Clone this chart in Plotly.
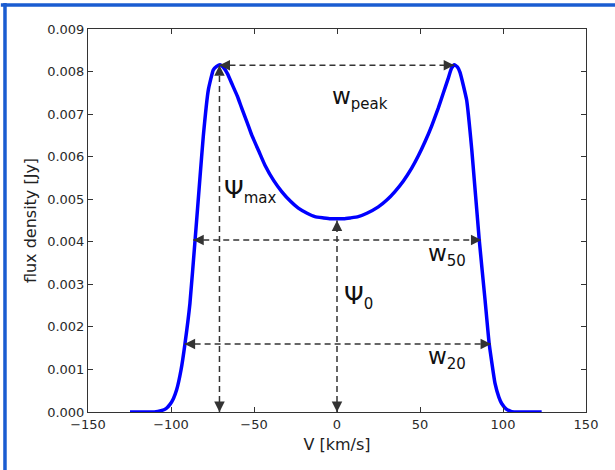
import plotly.graph_objects as go

# ---- data ----
velocity = [-124.7, -110, -106, -103, -100.6, -98.5, -96.6, -94, -91.6, -88.6,
            -85.5, -82.5, -80.5, -77.5, -74.5, -72.5, -70.5, -68.5, -66, -63.4,
            -60, -57.4, -54, -51.4, -47, -43.4, -38, -33.3, -28, -23.3,
            -18, -13.3, -8, -4, 0, 4, 8, 12.8, 18, 24.9,
            30, 34.9, 40, 45, 49, 53, 57, 61, 64, 67,
            68.8, 70.6, 72.5, 74.1, 78.1, 81.2, 85.7, 89.2, 91.7, 95.2,
            97.5, 99.2, 102, 105.2, 110, 123.3]
flux = [0.0, 0.0, 0.00003, 0.00008, 0.00018, 0.00032, 0.00052, 0.00098, 0.0016, 0.00255,
        0.00404, 0.00553, 0.0065, 0.00757, 0.00804, 0.00812, 0.00816, 0.0081, 0.00795, 0.00772,
        0.00742, 0.00714, 0.00679, 0.00651, 0.00612, 0.0058, 0.00543, 0.00518, 0.00495, 0.00479,
        0.00467, 0.00459, 0.00456, 0.00454, 0.00454, 0.00454, 0.00456, 0.00459, 0.00467, 0.00482,
        0.00498, 0.00518, 0.00543, 0.00573, 0.00602, 0.00635, 0.00672, 0.00714, 0.00749, 0.00784,
        0.00806, 0.00816, 0.00811, 0.00798, 0.00733, 0.00616, 0.00404, 0.00263, 0.0016, 0.00067,
        0.00035, 0.0002, 0.00007, 0.00001, 0.0, 0.0]

# measurement markers
peak_v = [-70.8, 70.6]
peak_flux = 0.00815
center_v = 0.0
center_flux = 0.0045
w50_edges = [-86.6, 87.0]
w50_level = 0.00404
w20_edges = [-91.8, 92.8]
w20_level = 0.0016

x_ticks = [-150, -100, -50, 0, 50, 100, 150]
y_ticks = [0.000, 0.001, 0.002, 0.003, 0.004, 0.005, 0.006, 0.007, 0.008, 0.009]

# label texts and anchor positions (data coords)
label_main = ["w", "Ψ", "Ψ", "w", "w"]
label_sub = ["peak", "max", "0", "50", "20"]
label_x = [-4.5, -69.5, 2.8, 53.5, 53.5]
label_y = [0.00738, 0.0052, 0.0027, 0.0037, 0.00128]
label_size = [23, 25, 25, 23, 23]
sub_size = 15

DARK = "#333333"
FONT = "DejaVu Sans"

fig = go.Figure()
fig.add_trace(go.Scatter(
    x=velocity, y=flux, mode="lines",
    line=dict(color="#0000ff", width=3.5, shape="spline", smoothing=0.4),
    cliponaxis=False, hoverinfo="skip", showlegend=False))

dash = "6px,4px"
shapes = []
for (x0, x1, yy) in [(peak_v[0], peak_v[1], peak_flux),
                     (w50_edges[0], w50_edges[1], w50_level),
                     (w20_edges[0], w20_edges[1], w20_level)]:
    shapes.append(dict(type="line", xref="x", yref="y", x0=x0, x1=x1, y0=yy, y1=yy,
                       line=dict(color=DARK, width=1.5, dash=dash)))
for (xx, ytop) in [(peak_v[0], peak_flux), (center_v, center_flux)]:
    shapes.append(dict(type="line", xref="x", yref="y", x0=xx, x1=xx, y0=0, y1=ytop,
                       line=dict(color=DARK, width=1.5, dash=dash)))

# blue screenshot frame
shapes.append(dict(type="line", xref="paper", yref="paper", x0=-0.175, x1=1.06,
                   y0=1.0627, y1=1.0627, line=dict(color="#1a5cd1", width=3.5)))
shapes.append(dict(type="line", xref="paper", yref="paper", x0=-0.1667, x1=-0.1667,
                   y0=1.068, y1=-0.16, line=dict(color="#1a5cd1", width=3.5)))

annotations = []
L = 11


def head(x, y, ax, ay):
    annotations.append(dict(x=x, y=y, xref="x", yref="y", ax=ax, ay=ay, text="",
                            showarrow=True, arrowhead=2, arrowsize=1.4, arrowwidth=1.5,
                            arrowcolor=DARK, standoff=0))


for (x0, x1, yy) in [(peak_v[0], peak_v[1], peak_flux),
                     (w50_edges[0], w50_edges[1], w50_level),
                     (w20_edges[0], w20_edges[1], w20_level)]:
    head(x0, yy, L, 0)
    head(x1, yy, -L, 0)
for (xx, ytop) in [(peak_v[0], peak_flux), (center_v, center_flux)]:
    head(xx, ytop, 0, L)
    head(xx, 0, 0, -L)

for m, sb, lx, ly, s in zip(label_main, label_sub, label_x, label_y, label_size):
    text = f"{m}<sub><span style='font-size:{sub_size}px'>{sb}</span></sub>"
    annotations.append(dict(x=lx, y=ly, xref="x", yref="y", text=text, showarrow=False,
                            xanchor="left", yanchor="middle",
                            font=dict(family=FONT, size=s, color="#111111")))

fig.update_layout(
    width=615, height=470,
    margin=dict(l=88, r=29, t=29, b=58),
    paper_bgcolor="white", plot_bgcolor="white",
    font=dict(family=FONT, color="#222222"),
    shapes=shapes, annotations=annotations,
    xaxis=dict(range=[-150, 150], tickvals=x_ticks,
               ticktext=[str(v).replace("-", "−") for v in x_ticks],
               ticks="inside", ticklen=5, tickcolor=DARK, showline=True, linecolor=DARK,
               linewidth=1, mirror="ticks", showgrid=False, zeroline=False,
               tickfont=dict(size=13, color="#2a2a2a"),
               title=dict(text="V [km/s]", font=dict(size=16, color="#222222"), standoff=8)),
    yaxis=dict(range=[0, 0.009], tickvals=y_ticks,
               ticktext=[f"{v:.3f}" for v in y_ticks],
               ticks="inside", ticklen=5, tickcolor=DARK, showline=True, linecolor=DARK,
               linewidth=1, mirror="ticks", showgrid=False, zeroline=False,
               tickfont=dict(size=13, color="#2a2a2a"),
               title=dict(text="flux density [Jy]", font=dict(size=16, color="#222222"), standoff=6)),
)

fig.write_html("out.html", config={"displayModeBar": False},
               post_script="document.body.style.margin='0';")
